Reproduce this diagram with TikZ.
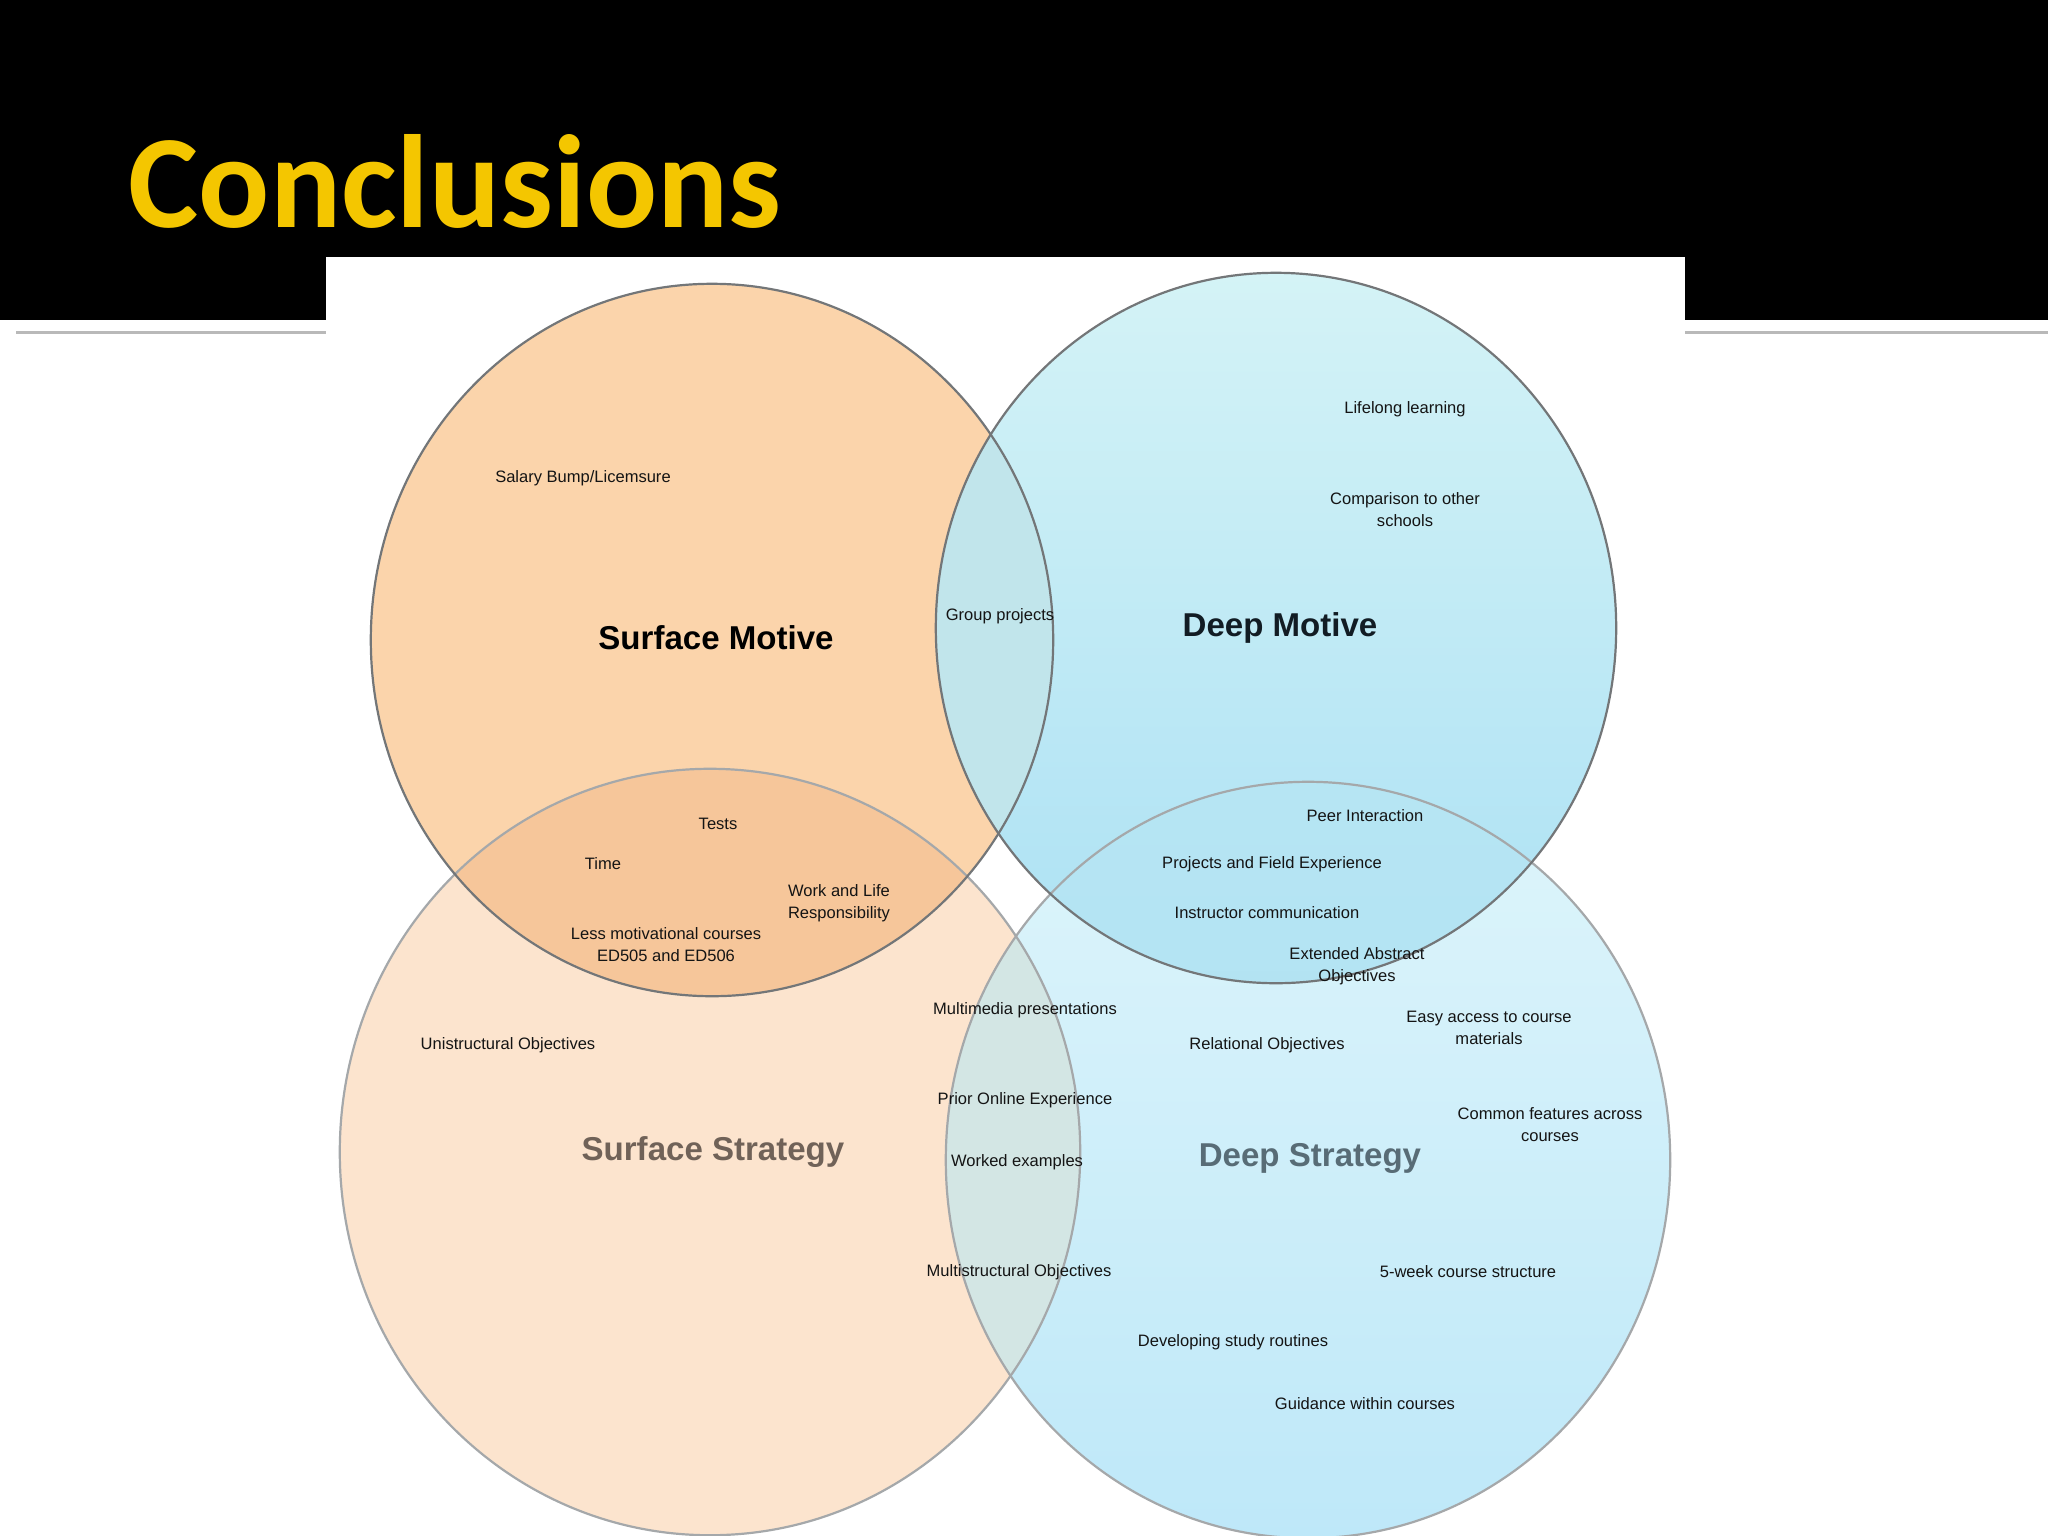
\documentclass[tikz,border=0pt]{standalone}
\usepackage{fontspec}
\setmainfont{Liberation Sans}
\newfontfamily\titlefont{Carlito}
\definecolor{tlc}{RGB}{251,212,171}
\definecolor{blc}{RGB}{252,228,206}
\definecolor{lenso}{RGB}{246,198,154}
\definecolor{trtop}{RGB}{212,243,246}
\definecolor{trbot}{RGB}{172,225,244}
\definecolor{brtop}{RGB}{222,245,250}
\definecolor{brbot}{RGB}{190,232,249}
\definecolor{lensbtop}{RGB}{182,229,243}
\definecolor{lensbbot}{RGB}{172,223,241}
\definecolor{mixtop}{RGB}{193,229,235}
\definecolor{mixbot}{RGB}{211,230,228}
\definecolor{darkline}{RGB}{115,118,120}
\definecolor{lightline}{RGB}{165,168,170}
\definecolor{sepline}{RGB}{185,185,185}
\definecolor{titlegold}{RGB}{244,198,0}
\definecolor{txt}{RGB}{20,20,20}
\definecolor{sstrat}{RGB}{112,98,88}
\definecolor{dstrat}{RGB}{88,108,118}
\definecolor{dmot}{RGB}{18,28,36}
\tikzset{
  lbl/.style={font=\fontsize{4.7}{6.26}\selectfont, text=txt, align=center, inner sep=0pt},
  big/.style={font=\fontsize{9.4}{11}\selectfont\bfseries, inner sep=0pt},
  rimdark/.style={draw=darkline, line width=0.022cm},
  rimlight/.style={draw=lightline, line width=0.022cm}
}
\begin{document}
\begin{tikzpicture}[x=0.01cm,y=-0.01cm]
\useasboundingbox (0,0) rectangle (2048,1536);
\fill[white] (0,0) rectangle (2048,1536);
\fill[black] (0,0) rectangle (2048,320);
\draw[sepline, line width=0.03cm] (16,332) -- (2048,332);
\fill[white] (326,257) rectangle (1685,1536);
\node[anchor=base west, inner sep=0pt, text=titlegold, font=\fontsize{37.7}{40}\selectfont\titlefont\bfseries] (title) at (128,227) {Conclusions};
% base fills
\fill[tlc] (712,640) ellipse [x radius=3.41cm, y radius=3.56cm];
\fill[blc] (710,1152) ellipse [x radius=3.70cm, y radius=3.83cm];
\fill[top color=trtop, bottom color=trbot] (1276,628) ellipse [x radius=3.40cm, y radius=3.55cm];
\fill[top color=brtop, bottom color=brbot] (1308,1160) ellipse [x radius=3.62cm, y radius=3.78cm];
% intersections
\begin{scope}
\clip (712,640) ellipse [x radius=3.41cm, y radius=3.56cm];
\fill[lenso] (710,1152) ellipse [x radius=3.70cm, y radius=3.83cm];
\fill[mixtop] (1276,628) ellipse [x radius=3.40cm, y radius=3.55cm];
\end{scope}
\begin{scope}
\clip (1276,628) ellipse [x radius=3.40cm, y radius=3.55cm];
\fill[top color=lensbtop, bottom color=lensbbot] (1308,1160) ellipse [x radius=3.62cm, y radius=3.78cm];
\end{scope}
\begin{scope}
\clip (710,1152) ellipse [x radius=3.70cm, y radius=3.83cm];
\fill[mixbot] (1308,1160) ellipse [x radius=3.62cm, y radius=3.78cm];
\end{scope}
% outlines
\path[rimlight] (710,1152) ellipse [x radius=3.70cm, y radius=3.83cm];
\path[rimlight] (1308,1160) ellipse [x radius=3.62cm, y radius=3.78cm];
\path[rimdark] (712,640) ellipse [x radius=3.41cm, y radius=3.56cm];
\path[rimdark] (1276,628) ellipse [x radius=3.40cm, y radius=3.55cm];
% big labels
\node[big, text=black] (sm) at (716,638) {Surface Motive};
\node[big, text=dmot] (dm) at (1280,628) {Deep Motive};
\node[big, text=sstrat] (ss) at (713,1152) {Surface Strategy};
\node[big, text=dstrat] (ds) at (1310,1158) {Deep Strategy};
% small labels
\node[lbl] (salary) at (583,478) {Salary Bump/Licemsure};
\node[lbl] (group) at (1000,616) {Group projects};
\node[lbl] (life) at (1405,409) {Lifelong learning};
\node[lbl] (comp) at (1405,510) {Comparison to other\\schools};
\node[lbl] (tests) at (718,824) {Tests};
\node[lbl] (time) at (603,864) {Time};
\node[lbl] (work) at (839,903) {Work and Life\\Responsibility};
\node[lbl] (less) at (666,945) {Less motivational courses\\ED505 and ED506};
\node[lbl] (peer) at (1365,816) {Peer Interaction};
\node[lbl] (proj) at (1272,864) {Projects and Field Experience};
\node[lbl] (instr) at (1267,913) {Instructor communication};
\node[lbl] (ext) at (1357,966) {Extended Abstract\\Objectives};
\node[lbl] (multi) at (1025,1010) {Multimedia presentations};
\node[lbl] (uni) at (508,1045) {Unistructural Objectives};
\node[lbl] (rel) at (1267,1045) {Relational Objectives};
\node[lbl] (easy) at (1489,1028) {Easy access to course\\materials};
\node[lbl] (prior) at (1025,1100) {Prior Online Experience};
\node[lbl] (common) at (1550,1125) {Common features across\\courses};
\node[lbl] (worked) at (1017,1162) {Worked examples};
\node[lbl] (multis) at (1019,1272) {Multistructural Objectives};
\node[lbl] (five) at (1468,1272) {5-week course structure};
\node[lbl] (dev) at (1233,1342) {Developing study routines};
\node[lbl] (guide) at (1365,1404) {Guidance within courses};
\end{tikzpicture}
\end{document}
